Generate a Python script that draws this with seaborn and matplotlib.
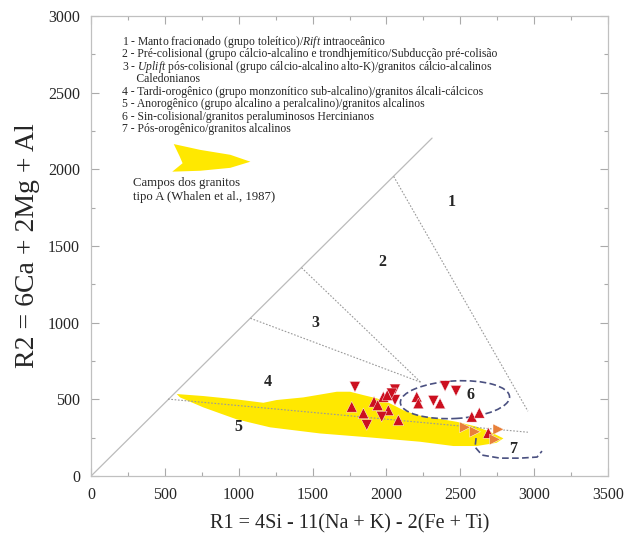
import matplotlib
matplotlib.use("Agg")
import matplotlib.pyplot as plt
import numpy as np
import pandas as pd
import seaborn as sns
from matplotlib.patches import Polygon, Ellipse
from matplotlib.ticker import MultipleLocator

##################################################
# Amostras (R1, R2) lidas do diagrama
up_r1 = [1765, 1844, 1916, 1979, 2013, 2081, 2205, 2216, 2363, 2578, 2629, 2690, 1941, 2006]
up_r2 = [452, 409, 485, 517, 430, 365, 517, 474, 474, 387, 413, 282, 463, 528]
down_r1 = [1787, 1867, 2058, 2058, 1968, 2318, 2397, 2471, 2036]
down_r2 = [582, 333, 565, 496, 387, 491, 587, 556, 539]
right_r1 = [2532, 2600, 2758, 2735]
right_r2 = [318, 289, 305, 239]

# Campo dos granitos tipo A (Whalen et al., 1987)
field_r1 = [580, 760, 986, 1167, 1257, 1437, 1573, 1664, 1754, 1844, 1934, 2024, 2114, 2205,
            2341, 2476, 2611, 2701, 2792, 2746, 2611, 2453, 2227, 1889, 1550, 1212, 986, 760, 603]
field_r2 = [535, 522, 500, 478, 496, 513, 535, 550, 550, 528, 507, 474, 430, 398,
            376, 354, 322, 289, 246, 217, 196, 196, 224, 252, 278, 318, 370, 448, 513]

# Amostra da legenda (forma amarela pequena)
swatch_r1 = [560, 740, 943, 1079, 943, 740, 550, 620, 600]
swatch_r2 = [2165, 2127, 2095, 2050, 2010, 1991, 1985, 2040, 2085]

# Limites dos campos
diag_r1, diag_r2 = [0, 2309], [0, 2204]
bounds = [([2049, 2958], [1954, 423]),
          ([1425, 2232], [1359, 612]),
          ([1079, 2232], [1029, 612]),
          ([521, 2958], [502, 286])]

field7_r1 = [2607, 2600, 2647, 2769, 2905, 3020, 3053]
field7_r2 = [248, 189, 137, 117, 117, 124, 163]

labels = ["1", "2", "3", "4", "5", "6", "7"]
label_r1 = [2444, 1970, 1517, 1198, 995, 2566, 2857]
label_r2 = [1786, 1396, 998, 613, 320, 528, 176]

legend_lines = [
    r"1 - Manto fracionado (grupo toleítico)/$\mathit{Rift}$ intraoceânico",
    "2 - Pré-colisional (grupo cálcio-alcalino e trondhjemítico/Subducção pré-colisão",
    r"3 - $\mathit{Uplift}$ pós-colisional (grupo cálcio-alcalino alto-K)/granitos cálcio-alcalinos",
    "     Caledonianos",
    "4 - Tardi-orogênico (grupo monzonítico sub-alcalino)/granitos álcali-cálcicos",
    "5 - Anorogênico (grupo alcalino a peralcalino)/granitos alcalinos",
    "6 - Sin-colisional/granitos peraluminosos Hercinianos",
    "7 - Pós-orogênico/granitos alcalinos",
]

##################################################
sns.set_style("ticks")
plt.rcParams["font.family"] = ["Liberation Serif", "DejaVu Serif"]
plt.rcParams["mathtext.fontset"] = "custom"
plt.rcParams["mathtext.rm"] = "Liberation Serif"
plt.rcParams["mathtext.it"] = "Liberation Serif:italic"

df = pd.DataFrame({
    "R1": up_r1 + down_r1 + right_r1,
    "R2": up_r2 + down_r2 + right_r2,
    "tipo": ["up"] * len(up_r1) + ["down"] * len(down_r1) + ["right"] * len(right_r1),
})

fig = plt.figure(figsize=(6.41, 5.41), dpi=100)
ax = fig.add_axes([0.142, 0.12, 0.8065, 0.8504])

yellow = "#ffe800"
ax.add_patch(Polygon(np.column_stack([field_r1, field_r2]), closed=True, facecolor=yellow, edgecolor="none", zorder=1))
ax.add_patch(Polygon(np.column_stack([swatch_r1, swatch_r2]), closed=True, facecolor=yellow, edgecolor="none", zorder=1))

ax.plot(diag_r1, diag_r2, color="#bbbbbb", lw=0.9, zorder=2)
for bx, by in bounds:
    ax.plot(bx, by, color="#999999", lw=0.8, ls=(0, (1.5, 1.5)), zorder=2)

dash_col = "#4a5080"
ax.add_patch(Ellipse((2464, 498), width=740, height=245, angle=3, fill=False,
                     edgecolor=dash_col, lw=1.2, ls=(0, (4, 2)), zorder=3))
ax.plot(field7_r1, field7_r2, color=dash_col, lw=1.2, ls=(0, (4, 2)), zorder=3)

sns.scatterplot(data=df, x="R1", y="R2", hue="tipo", style="tipo",
                hue_order=["up", "down", "right"],
                palette={"up": "#cc1020", "down": "#cc1020", "right": "#e8803a"},
                markers={"up": "^", "down": "v", "right": ">"},
                s=60, edgecolor="white", linewidth=0.3, legend=False, ax=ax, zorder=4)

for t, x, y in zip(labels, label_r1, label_r2):
    ax.text(x, y, t, fontsize=11.5, fontweight="bold", ha="center", va="center", zorder=5)

ax.text(284, 1911, "Campos dos granitos", fontsize=9.2, ha="left", va="center")
ax.text(284, 1820, "tipo A (Whalen et al., 1987)", fontsize=9.2, ha="left", va="center")

for i, line in enumerate(legend_lines):
    ax.text(0.060, 0.944 - i * 0.0272, line, fontsize=8.4, ha="left", va="center", transform=ax.transAxes)

ax.set_xlim(0, 3500)
ax.set_ylim(0, 3000)
ax.xaxis.set_major_locator(MultipleLocator(500))
ax.xaxis.set_minor_locator(MultipleLocator(250))
ax.yaxis.set_major_locator(MultipleLocator(500))
ax.yaxis.set_minor_locator(MultipleLocator(250))
ax.tick_params(which="both", direction="in", top=True, right=True, color="#aaaaaa", labelsize=11.5)
ax.tick_params(which="major", length=6, width=0.8, pad=8)
ax.tick_params(which="minor", length=3, width=0.8)
for sp in ax.spines.values():
    sp.set_color("#c0c0c0")
    sp.set_linewidth(0.9)

ax.set_xlabel("R1 = 4Si - 11(Na + K) - 2(Fe + Ti)", fontsize=14.5, labelpad=8)
ax.set_ylabel("R2 = 6Ca + 2Mg + Al", fontsize=20, labelpad=6)

fig.savefig("out.png", dpi=100)
